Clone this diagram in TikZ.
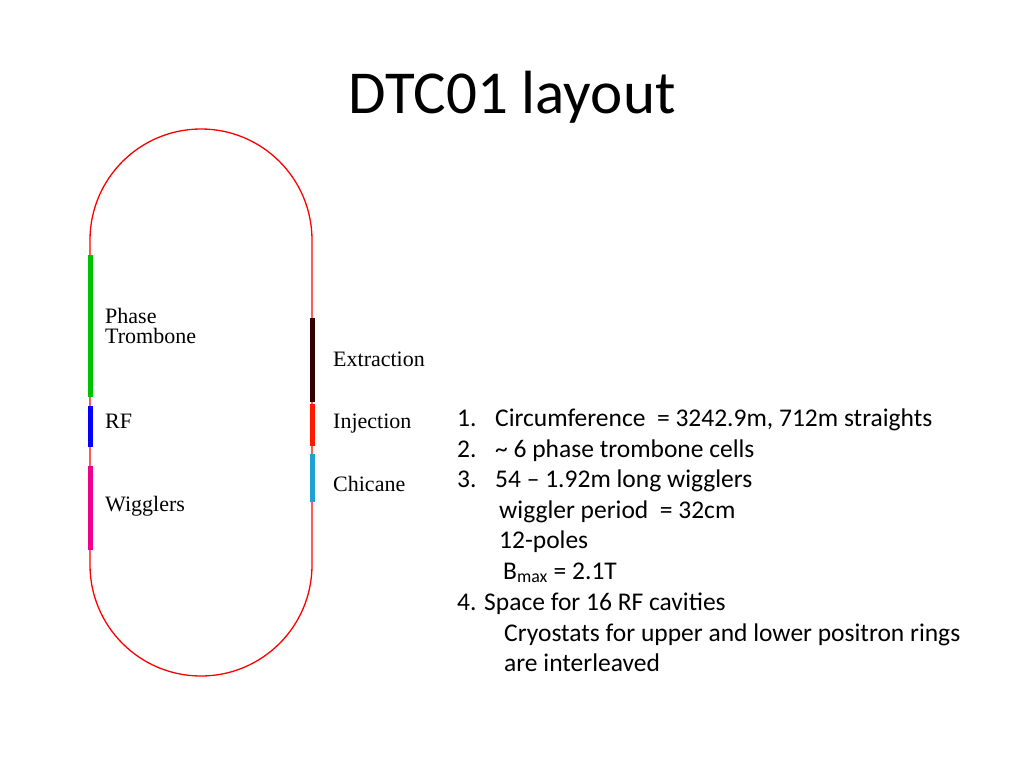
\documentclass[tikz,border=0pt]{standalone}
\usepackage{fontspec}
\setmainfont{Carlito}
\newfontfamily\serif{Liberation Serif}
\begin{document}
\begin{tikzpicture}[x=1pt,y=-1pt,
  lab/.style={font=\serif\fontsize{22}{24}\selectfont,anchor=base west,inner sep=0},
  item/.style={font=\fontsize{25.5}{28}\selectfont,anchor=base west,inner sep=0},
  seg/.style={line width=5pt}]
\useasboundingbox (0,0) rectangle (1024,768);
\node[font=\fontsize{61}{66}\selectfont] (title) at (512,97) {DTC01 layout};
\draw[red,line width=1.3pt] (90,240) -- (90,565) arc[start angle=180,end angle=0,radius=111] -- (312,240) arc[start angle=0,end angle=-180,radius=111] -- cycle;
\draw[seg,green!70!black!80!green] (90,255) -- (90,397);
\draw[seg,blue] (90,406) -- (90,447);
\draw[seg,magenta] (90,466) -- (90,550);
\draw[seg,black!80!red] (312,318) -- (312,402);
\draw[seg,red!80!orange] (312,404) -- (312,446);
\draw[seg,cyan!80!black!70!cyan] (312,454) -- (312,502);
\node[lab] (ph) at (105,323) {Phase};
\node[lab] (tr) at (105,343) {Trombone};
\node[lab] (rf) at (105,428) {RF};
\node[lab] (wg) at (105,511) {Wigglers};
\node[lab] (ex) at (333,366) {Extraction};
\node[lab] (inj) at (333,428) {Injection};
\node[lab] (ch) at (333,491) {Chicane};
\node[item] (n1) at (457,426) {1.};
\node[item] (t1) at (495,426) {Circumference\ \ = 3242.9m, 712m straights};
\node[item] (n2) at (457,457) {2.};
\node[item] (t2) at (495,457) {\~{} 6 phase trombone cells};
\node[item] (n3) at (457,487) {3.};
\node[item] (t3) at (495,487) {54 -- 1.92m long wigglers};
\node[item] (t4) at (499,518) {wiggler period\ \ = 32cm};
\node[item] (t5) at (499,548) {12-poles};
\node[item] (t6) at (503,579) {B\textsubscript{max} = 2.1T};
\node[item] (t7) at (457,610) {4. Space for 16 RF cavities};
\node[item] (t8) at (504,641) {Cryostats for upper and lower positron rings};
\node[item] (t9) at (504,671) {are interleaved};
\end{tikzpicture}
\end{document}
